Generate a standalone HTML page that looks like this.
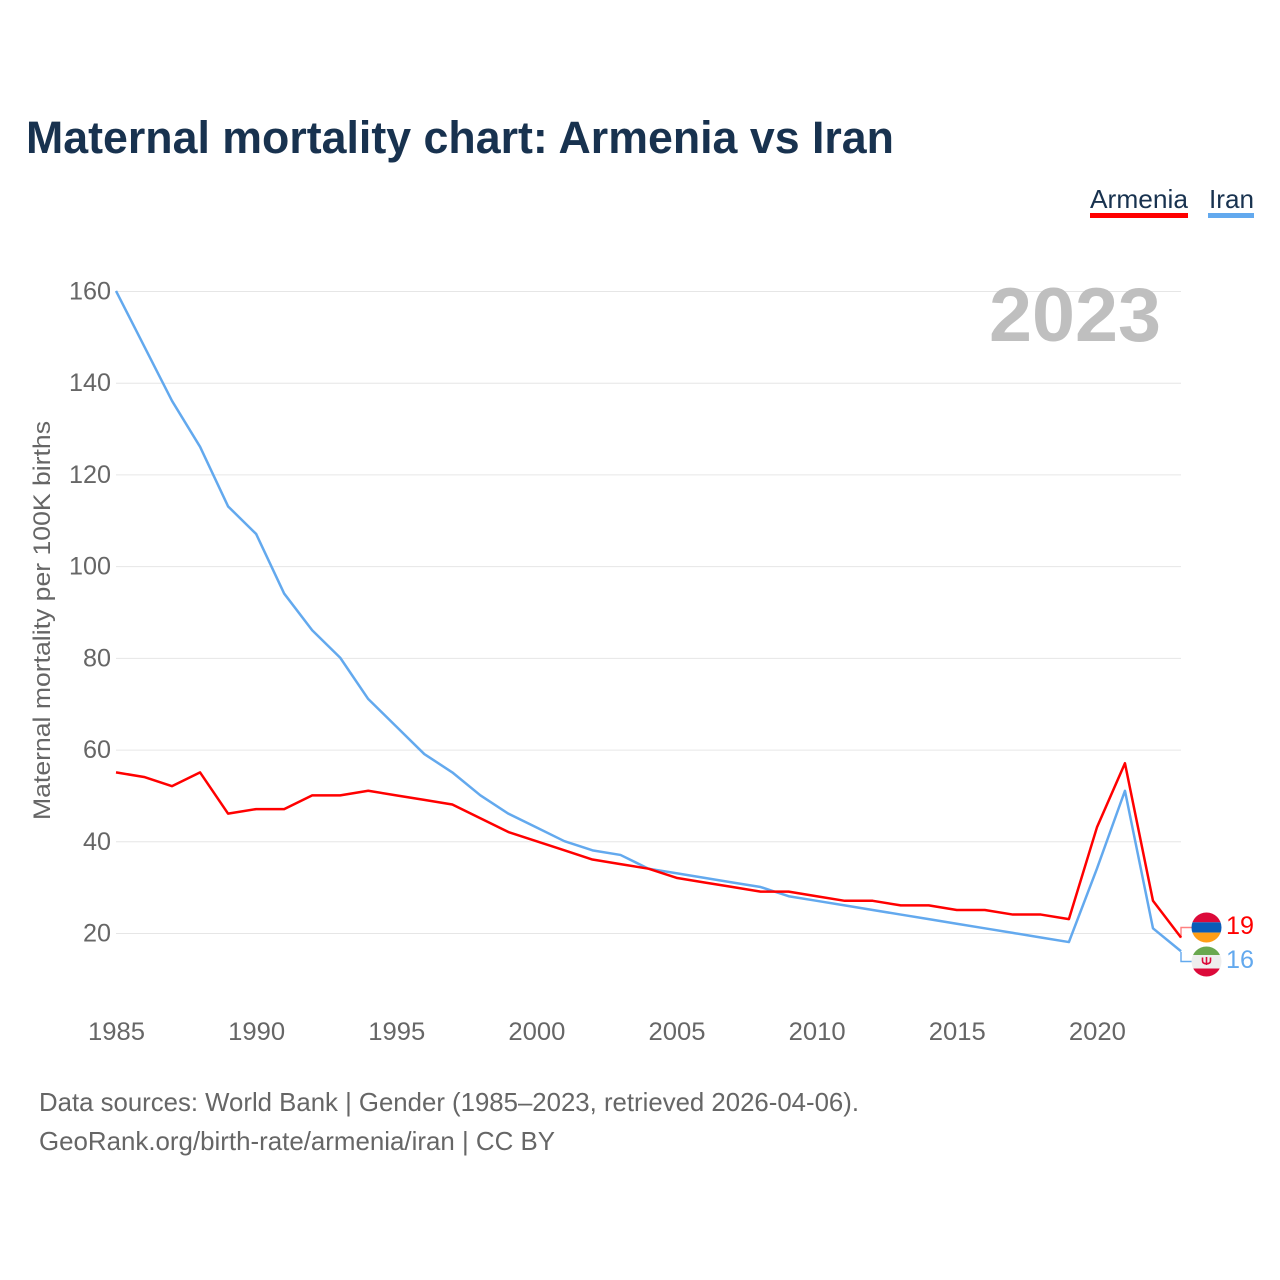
<!DOCTYPE html>
<html lang="en">
<head>
<meta charset="utf-8">
<title>Maternal mortality chart: Armenia vs Iran</title>
<style>
html,body{margin:0;padding:0;background:#fff;width:1280px;height:1280px;overflow:hidden}
svg{display:block}
text{font-family:"Liberation Sans",sans-serif}
</style>
</head>
<body>
<svg id="chart" width="1280" height="1280" viewBox="0 0 1280 1280" xmlns="http://www.w3.org/2000/svg">
<text x="26" y="153" font-size="45" font-weight="700" fill="#18324f" textLength="868" lengthAdjust="spacingAndGlyphs">Maternal mortality chart: Armenia vs Iran</text>
<g>
<g>
<text x="1090" y="208" font-size="26" fill="#18324f" textLength="98" lengthAdjust="spacingAndGlyphs">Armenia</text>
<rect x="1090" y="213" width="98" height="5" fill="#ff0000"/>
</g>
<g>
<text x="1209" y="208" font-size="26" fill="#18324f" textLength="45" lengthAdjust="spacingAndGlyphs">Iran</text>
<rect x="1208" y="213" width="46" height="5" fill="#63a9ee"/>
</g>
</g>
<g id="grid"></g>
<text x="989" y="341" font-size="76" font-weight="700" fill="#bfbfbf" textLength="172" lengthAdjust="spacingAndGlyphs">2023</text>
<g id="yticks"></g>
<g id="xticks"></g>
<text transform="translate(50,820) rotate(-90)" font-size="24" fill="#666666" textLength="399" lengthAdjust="spacingAndGlyphs">Maternal mortality per 100K births</text>
<g id="ends"></g>
<g id="series" transform="translate(0,-0.6)"></g>
<g>
<clipPath id="clipA"><circle cx="1206.5" cy="927.5" r="15"/></clipPath>
<g clip-path="url(#clipA)">
<rect x="1191" y="912" width="31" height="10.3" fill="#dc0a3a"/>
<rect x="1191" y="922.3" width="31" height="10.3" fill="#0a5cb8"/>
<rect x="1191" y="932.6" width="31" height="10.4" fill="#ff9e16"/>
</g>
</g>
<g>
<clipPath id="clipI"><circle cx="1206.5" cy="961.5" r="15"/></clipPath>
<g clip-path="url(#clipI)">
<rect x="1191" y="946" width="31" height="9" fill="#6aa84f"/>
<rect x="1191" y="955" width="31" height="14" fill="#eeeeee"/>
<rect x="1191" y="968.5" width="31" height="9" fill="#dc0a3a"/>
<path d="M1202.5 957.5v3.2q0 3 4 3t4-3v-3.2M1206.5 957v8" fill="none" stroke="#dc0a3a" stroke-width="1.6"/>
</g>
</g>
<g>
<text x="39" y="1111" font-size="26" fill="#666666" textLength="820" lengthAdjust="spacingAndGlyphs">Data sources: World Bank | Gender (1985–2023, retrieved 2026-04-06).</text>
<text x="39" y="1150" font-size="26" fill="#666666" textLength="516" lengthAdjust="spacingAndGlyphs">GeoRank.org/birth-rate/armenia/iran | CC BY</text>
</g>
</svg>
<script>
const years = [1985,1986,1987,1988,1989,1990,1991,1992,1993,1994,1995,1996,1997,1998,1999,2000,2001,2002,2003,2004,2005,2006,2007,2008,2009,2010,2011,2012,2013,2014,2015,2016,2017,2018,2019,2020,2021,2022,2023];
const armenia = [55,54,52,55,46,47,47,50,50,51,50,49,48,45,42,40,38,36,35,34,32,31,30,29,29,28,27,27,26,26,25,25,24,24,23,43,57,27,19];
const iran = [160,148,136,126,113,107,94,86,80,71,65,59,55,50,46,43,40,38,37,34,33,32,31,30,28,27,26,25,24,23,22,21,20,19,18,34,51,21,16];
const yTicks = [20,40,60,80,100,120,140,160];
const xTicks = [1985,1990,1995,2000,2005,2010,2015,2020];

const NS = 'http://www.w3.org/2000/svg';
const xScale = function(y){ return 116 + (y - 1985) * (1181 - 116) / 38; };
const yScale = function(v){ return 933.5 - (v - 20) * (933.5 - 291.5) / 140; };
function make(tag, parent){
  const el = document.createElementNS(NS, tag);
  parent.appendChild(el);
  return el;
}
const grid = document.getElementById('grid');
const yG = document.getElementById('yticks');
const xG = document.getElementById('xticks');
const seriesG = document.getElementById('series');
const endsG = document.getElementById('ends');

yTicks.forEach(function(t){
  const l = make('line', grid);
  
  
  l.setAttribute('x1', 116);
  l.setAttribute('x2', 1181);
  l.setAttribute('y1', yScale(t));
  l.setAttribute('y2', yScale(t));
  l.setAttribute('stroke', '#e6e6e6');
  l.setAttribute('stroke-width', 1);
  const s = make('text', yG);
  
  
  s.setAttribute('x', 111);
  s.setAttribute('y', yScale(t) + 8);
  s.setAttribute('text-anchor', 'end');
  s.setAttribute('font-size', 25);
  s.setAttribute('fill', '#666666');
  s.setAttribute('textLength', t >= 100 ? 42 : 28);
  s.setAttribute('lengthAdjust', 'spacingAndGlyphs');
  s.textContent = t;
});
xTicks.forEach(function(t){
  const s = make('text', xG);
  
  
  s.setAttribute('x', xScale(t) + 0.5);
  s.setAttribute('y', 1040);
  s.setAttribute('text-anchor', 'middle');
  s.setAttribute('font-size', 25);
  s.setAttribute('fill', '#666666');
  s.setAttribute('textLength', 57);
  s.setAttribute('lengthAdjust', 'spacingAndGlyphs');
  s.textContent = t;
});
function linePath(vals){
  return vals.map(function(v, i){
    return (i ? 'L' : 'M') + xScale(years[i]).toFixed(2) + ' ' + yScale(v).toFixed(2);
  }).join('');
}
const lineIran = make('path', seriesG);


lineIran.setAttribute('d', linePath(iran));
lineIran.setAttribute('fill', 'none');
lineIran.setAttribute('stroke', '#63a9ee');
lineIran.setAttribute('stroke-width', 2.5);
lineIran.setAttribute('stroke-linejoin', 'round');
const lineArmenia = make('path', seriesG);


lineArmenia.setAttribute('d', linePath(armenia));
lineArmenia.setAttribute('fill', 'none');
lineArmenia.setAttribute('stroke', '#ff0000');
lineArmenia.setAttribute('stroke-width', 2.5);
lineArmenia.setAttribute('stroke-linejoin', 'round');

const lastA = armenia[armenia.length - 1];
const lastI = iran[iran.length - 1];
const xEnd = xScale(years[years.length - 1]);

const connA = make('path', endsG);


connA.setAttribute('d', 'M' + xEnd + ' ' + yScale(lastA) + 'V927.5H1192');
connA.setAttribute('fill', 'none');
connA.setAttribute('stroke', '#ff8080');
connA.setAttribute('stroke-width', 1.4);
const connI = make('path', endsG);


connI.setAttribute('d', 'M' + xEnd + ' ' + yScale(lastI) + 'V961.5H1192');
connI.setAttribute('fill', 'none');
connI.setAttribute('stroke', '#63a9ee');
connI.setAttribute('stroke-width', 1.4);

const labA = make('text', endsG);


labA.setAttribute('x', 1226);
labA.setAttribute('y', 934);
labA.setAttribute('font-size', 25);
labA.setAttribute('fill', '#ff0000');
labA.setAttribute('textLength', 28);
labA.setAttribute('lengthAdjust', 'spacingAndGlyphs');
labA.textContent = lastA;
const labI = make('text', endsG);


labI.setAttribute('x', 1226);
labI.setAttribute('y', 968);
labI.setAttribute('font-size', 25);
labI.setAttribute('fill', '#63a9ee');
labI.setAttribute('textLength', 28);
labI.setAttribute('lengthAdjust', 'spacingAndGlyphs');
labI.textContent = lastI;
</script>
</body>
</html>
